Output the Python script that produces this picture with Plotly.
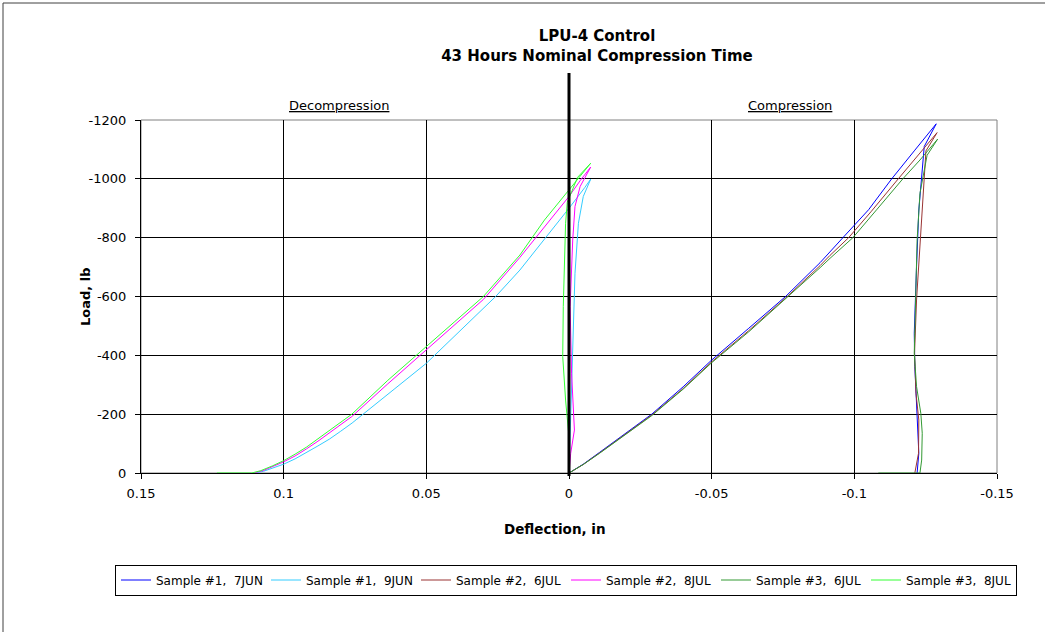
import plotly.graph_objects as go

# ---- axis ticks -------------------------------------------------------------
X_TICKS = [0.15, 0.1, 0.05, 0, -0.05, -0.1, -0.15]
X_TICK_TEXT = ["0.15", "0.1", "0.05", "0", "-0.05", "-0.1", "-0.15"]
Y_TICKS = [0, -200, -400, -600, -800, -1000, -1200]
Y_TICK_TEXT = ["0", "-200", "-400", "-600", "-800", "-1000", "-1200"]

# ---- compression runs (load up, then unload) -------------------------------
s1_7jun_defl = [0, -0.005, -0.0107, -0.0214, -0.029, -0.04, -0.05, -0.063, -0.0759, -0.088,
                -0.0915, -0.096, -0.105, -0.1131, -0.121, -0.1287,
                -0.1245, -0.1233, -0.1226, -0.1218, -0.121, -0.1212, -0.1222, -0.1226, -0.122]
s1_7jun_load = [0, -30, -70, -146, -200, -293, -384, -492, -600, -715,
                -753, -800, -895, -1000, -1095, -1187,
                -1110, -962, -894, -702, -475, -362, -180, -67, 0]

s2_6jul_defl = [0, -0.005, -0.0107, -0.0214, -0.029, -0.04, -0.05, -0.063, -0.0765, -0.088,
                -0.0915, -0.098, -0.106, -0.1154, -0.122, -0.129,
                -0.1251, -0.1244, -0.123, -0.1218, -0.1211, -0.1216, -0.1226, -0.1225, -0.1212]
s2_6jul_load = [0, -29, -68, -143, -197, -287, -378, -484, -600, -705,
                -740, -800, -890, -1000, -1076, -1157,
                -1095, -985, -792, -588, -407, -271, -180, -67, 0]

s3_6jul_defl = [0, -0.005, -0.0107, -0.0214, -0.029, -0.04, -0.05, -0.063, -0.0769, -0.088,
                -0.0915, -0.0995, -0.108, -0.117, -0.123, -0.1292,
                -0.1255, -0.123, -0.122, -0.1215, -0.121, -0.1218, -0.1233, -0.1238, -0.1236,
                -0.123, -0.1084]
s3_6jul_load = [0, -29, -67, -142, -195, -285, -375, -480, -600, -698,
                -730, -800, -897, -1000, -1064, -1135,
                -1080, -951, -792, -588, -407, -294, -203, -135, -44,
                0, 0]

# ---- decompression runs (near-vertical rise, then release) -----------------
s1_9jun_defl = [0, -0.0004, -0.0013, -0.0021, -0.0033, -0.005, -0.0076,
                -0.0055, 0, 0.0086, 0.0172, 0.0257, 0.038, 0.05, 0.061, 0.0721,
                0.076, 0.080, 0.084, 0.088, 0.092, 0.096, 0.100, 0.104, 0.107, 0.110]
s1_9jun_load = [0, -135, -452, -679, -849, -940, -999,
                -970, -900, -795, -690, -600, -485, -373, -287, -200,
                -170, -142, -115, -92, -70, -48, -30, -15, -6, 0]

s2_8jul_defl = [0, -0.0006, -0.0019, -0.0009, -0.0004, -0.0013, -0.0021, -0.0039, -0.0076,
                -0.004, 0, 0.0086, 0.0172, 0.030, 0.040, 0.05, 0.0635, 0.0761,
                0.080, 0.084, 0.088, 0.092, 0.096, 0.100, 0.104, 0.107, 0.1104]
s2_8jul_load = [0, -67, -146, -339, -566, -792, -906, -974, -1040,
                -995, -940, -835, -733, -590, -505, -421, -303, -192,
                -164, -136, -108, -82, -58, -38, -20, -9, 0]

s3_8jul_defl = [0, -0.0001, 0.0012, 0.0022, 0.002, 0.0016, 0.0012, 0.0006, -0.003, -0.0076,
                -0.004, 0, 0.0086, 0.0172, 0.030, 0.040, 0.05, 0.0635, 0.0761,
                0.080, 0.084, 0.088, 0.092, 0.096, 0.100, 0.104, 0.108, 0.1112, 0.1234]
s3_8jul_load = [0, -112, -248, -396, -566, -679, -849, -920, -1005, -1053,
                -1010, -962, -860, -741, -600, -515, -430, -315, -200,
                -172, -143, -115, -88, -64, -42, -24, -8, 0, 0]

SERIES = [
    ("Sample #1,  7JUN", s1_7jun_defl, s1_7jun_load, "#0000FF"),
    ("Sample #1,  9JUN", s1_9jun_defl, s1_9jun_load, "#33CCFF"),
    ("Sample #2,  6JUL", s2_6jul_defl, s2_6jul_load, "#993333"),
    ("Sample #2,  8JUL", s2_8jul_defl, s2_8jul_load, "#FF00FF"),
    ("Sample #3,  6JUL", s3_6jul_defl, s3_6jul_load, "#339933"),
    ("Sample #3,  8JUL", s3_8jul_defl, s3_8jul_load, "#33FF33"),
]

FONT = "DejaVu Sans, Liberation Sans, Arial, sans-serif"
W, H = 1045, 632
L, R, T, B = 141, 997, 120, 473          # plot-area edges in pixels
PW, PH = R - L, B - T


def px(x):
    return (x - L) / PW


def py(y):
    return (B - y) / PH


fig = go.Figure()
for name, xs, ys, color in SERIES:
    fig.add_trace(go.Scatter(x=xs, y=ys, mode="lines", name=name,
                             line=dict(color=color, width=1)))

axis_common = dict(
    showgrid=True, gridcolor="#000000", gridwidth=1,
    zeroline=False, showline=True, linecolor="#000000", linewidth=1,
    ticks="outside", ticklen=5, tickcolor="#000000",
    tickfont=dict(family=FONT, size=13, color="#000000"),
)

fig.update_xaxes(range=[0.15, -0.15], tickmode="array",
                 tickvals=X_TICKS, ticktext=X_TICK_TEXT, ticklabelstandoff=3,
                 **axis_common)
fig.update_yaxes(range=[0, -1200], tickmode="array",
                 tickvals=Y_TICKS, ticktext=Y_TICK_TEXT, ticklabelstandoff=6,
                 **axis_common)

ZERO_DEFLECTION = 0
fig.add_shape(type="rect", xref="paper", yref="paper", x0=0, x1=1, y0=0, y1=1,
              line=dict(color="#808080", width=1), layer="below")
fig.add_shape(type="line", xref="x", yref="paper",
              x0=ZERO_DEFLECTION, x1=ZERO_DEFLECTION, y0=py(476), y1=py(73),
              line=dict(color="#000000", width=3), layer="above")
# outer chart frame
fig.add_shape(type="rect", xref="paper", yref="paper",
              x0=px(3), x1=px(1080), y0=py(660), y1=py(3),
              line=dict(color="#404040", width=1), layer="below")


def label(text, x, y, angle=0, size=14):
    fig.add_annotation(text=text, xref="paper", yref="paper", x=px(x), y=py(y),
                       xanchor="center", yanchor="middle", textangle=angle,
                       showarrow=False,
                       font=dict(family=FONT, size=size, color="#000000"))


label("<u>Decompression</u>", 339, 106, size=13)
label("<u>Compression</u>", 790, 106, size=13)
label("<b>Load, lb</b>", 85, 297, angle=-90, size=13)
label("<b>Deflection, in</b>", 555, 529, size=13.5)

fig.update_layout(
    width=W, height=H,
    margin=dict(l=L, r=W - R, t=T, b=H - B, pad=0),
    paper_bgcolor="#FFFFFF", plot_bgcolor="#FFFFFF",
    font=dict(family=FONT, size=13, color="#000000"),
    title=dict(text="<b>LPU-4 Control<br>43 Hours Nominal Compression Time</b>",
               x=597 / W, y=1 - 41 / H, xanchor="center", yanchor="middle",
               xref="container", yref="container",
               font=dict(family=FONT, size=15, color="#000000")),
    showlegend=True,
    legend=dict(orientation="h", x=px(115), y=py(564.5), xanchor="left", yanchor="top",
                bgcolor="#FFFFFF", bordercolor="#000000", borderwidth=1,
                font=dict(family=FONT, size=12, color="#000000"),
                entrywidth=105, entrywidthmode="pixels", itemwidth=30,
                traceorder="normal"),
)

fig.write_html("out.html")
